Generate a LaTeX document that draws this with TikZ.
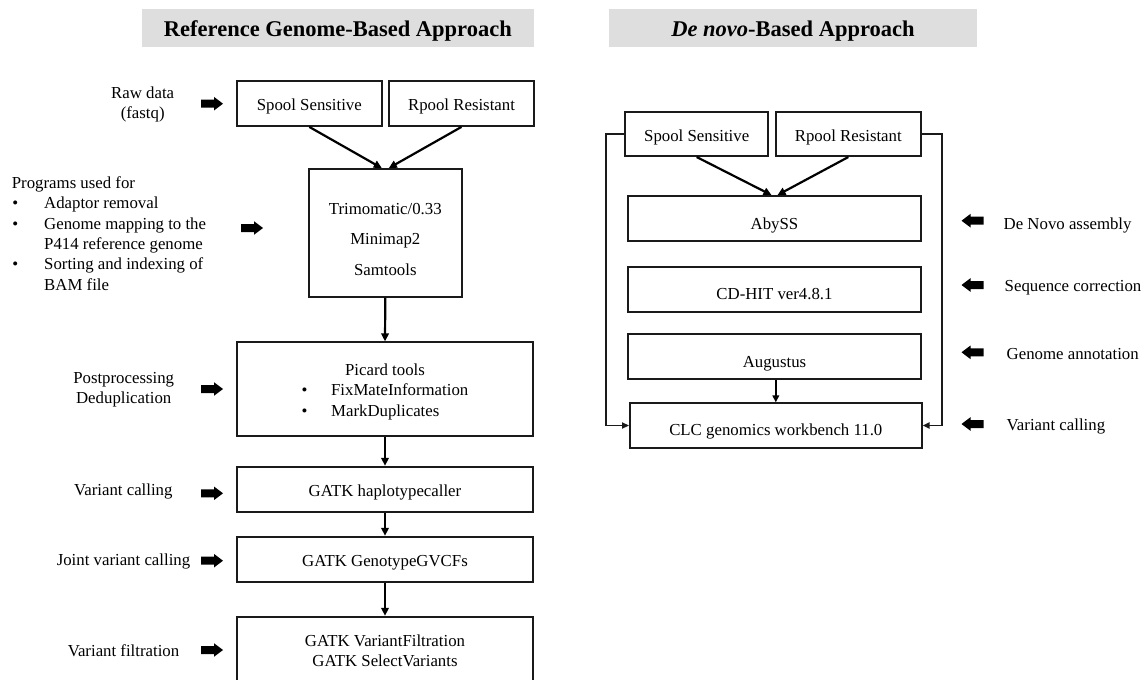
\documentclass[tikz,border=0pt]{standalone}
\usepackage{fontspec}
\setmainfont{Liberation Serif}
\usetikzlibrary{arrows.meta}
\newcommand{\bodyfs}{\fontsize{16.8}{20.6}\selectfont}
\newcommand{\listfs}{\fontsize{16.8}{20.4}\selectfont}
\newcommand{\widefs}{\fontsize{16.8}{30.5}\selectfont}
\newcommand{\titlefs}{\fontsize{22.5}{26}\selectfont\bfseries}
\definecolor{titlegray}{HTML}{DEDEDE}
\definecolor{linegray}{HTML}{1A1A1A}
\begin{document}
\begin{tikzpicture}[x=1pt,y=-1pt,
  box/.style={draw=linegray, line width=1.8pt, inner sep=0pt, align=center, font=\bodyfs},
  lbl/.style={inner sep=0pt, align=center, font=\bodyfs},
  up/.style={text height=#1, text depth=0pt},
  conn/.style={line width=2.2pt, draw=black, -{Triangle[length=8pt,width=7.5pt]}},
  side/.style={line width=1.9pt, draw=linegray, -{Triangle[length=7pt,width=6pt]}},
  titlebox/.style={fill=titlegray, inner sep=0pt, font=\titlefs},
  fatR/.pic={\fill (-11,-4) -- (2,-4) -- (2,-6.8) -- (11,0) -- (2,6.8) -- (2,4) -- (-11,4) -- cycle;},
  fatL/.pic={\fill (11,-4) -- (-2,-4) -- (-2,-6.8) -- (-11,0) -- (-2,6.8) -- (-2,4) -- (11,4) -- cycle;}
]
\useasboundingbox (0,0) rectangle (1144,680);
\clip (0,0) rectangle (1144,680);

% titles
\node[titlebox, minimum width=392.3pt, minimum height=38pt, up=16pt] (tL) at (337.9,28) {Reference Genome-Based Approach};
\node[titlebox, minimum width=367.4pt, minimum height=38pt, up=16pt] (tR) at (793,28) {\textit{De novo}-Based Approach};

% left flow
\node[box, minimum width=144.7pt, minimum height=45pt, up=13pt] (spoolL) at (309.3,103.5) {Spool Sensitive};
\node[box, minimum width=145pt, minimum height=45pt, up=13pt] (rpoolL) at (461.5,103.5) {Rpool Resistant};
\node[box, font=\widefs, minimum width=152.7pt, minimum height=128pt, up=84.6pt] (trim) at (385.3,233) {Trimomatic/0.33\\Minimap2\\Samtools};
\node[box, minimum width=296.6pt, minimum height=93.4pt, up=13.2pt] (picard) at (385,389)
  {Picard tools\\\begin{tabular}[t]{@{}l@{}}\makebox[29.5pt][l]{\textbullet}FixMateInformation\\\makebox[29.5pt][l]{\textbullet}MarkDuplicates\end{tabular}};
\node[box, minimum width=296.6pt, minimum height=45.6pt, up=13.6pt] (haplo) at (385,489.5) {GATK haplotypecaller};
\node[box, minimum width=296.6pt, minimum height=45pt, up=14.2pt] (geno) at (385,559.2) {GATK GenotypeGVCFs};
\node[box, minimum width=296.6pt, minimum height=67.2pt, up=33.2pt] (filt) at (385,650.3) {GATK VariantFiltration\\GATK SelectVariants};

\draw[conn] (spoolL.south) -- ([xshift=-3.5pt]trim.north);
\draw[conn] (rpoolL.south) -- ([xshift=3.5pt]trim.north);
\draw[conn] (trim.south) -- (picard.north);
\draw[conn] (picard.south) -- (haplo.north);
\draw[conn] (haplo.south) -- (geno.north);
\draw[conn] (geno.south) -- (filt.north);

% left labels
\node[lbl, up=32.8pt] (raw) at (142.7,102.5) {Raw data\\(fastq)};
\node[lbl, anchor=west, align=left, font=\listfs, up=114.6pt] (prog) at (11.7,233)
  {Programs used for\\
   \makebox[32.3pt][l]{\hspace*{0.5pt}\textbullet}Adaptor removal\\
   \makebox[32.3pt][l]{\hspace*{0.5pt}\textbullet}Genome mapping to the\\
   \hspace*{32.3pt}P414 reference genome\\
   \makebox[32.3pt][l]{\hspace*{0.5pt}\textbullet}Sorting and indexing of\\
   \hspace*{32.3pt}BAM file};
\node[lbl, up=33.2pt] (post) at (123.7,387) {Postprocessing\\Deduplication};
\node[lbl, up=13.6pt] (vcall) at (123.3,488.5) {Variant calling};
\node[lbl, up=13.2pt] (joint) at (123.5,559) {Joint variant calling};
\node[lbl, up=13.6pt] (vfilt) at (123.5,649.5) {Variant filtration};

\pic at (212,103.7) {fatR};
\pic at (252,228) {fatR};
\pic at (212,389) {fatR};
\pic at (212,493.3) {fatR};
\pic at (212,560.7) {fatR};
\pic at (212,650) {fatR};

% right flow
\node[box, minimum width=143.3pt, minimum height=44.3pt, up=14pt] (spoolR) at (696.7,134) {Spool Sensitive};
\node[box, minimum width=144.7pt, minimum height=44.3pt, up=14pt] (rpoolR) at (848.3,134) {Rpool Resistant};
\node[box, minimum width=292.4pt, minimum height=44.7pt, up=21.4pt] (abyss) at (774.5,218.3) {AbySS};
\node[box, minimum width=292.4pt, minimum height=44.4pt, up=20.2pt] (cdhit) at (774.5,289.5) {CD-HIT ver4.8.1};
\node[box, minimum width=292.4pt, minimum height=45pt, up=21.6pt] (aug) at (774.5,356.5) {Augustus};
\node[box, minimum width=291.7pt, minimum height=44.4pt, up=20.2pt] (clc) at (775.8,425.5) {CLC genomics workbench 11.0};

\draw[conn] (spoolR.south) -- ([xshift=-3pt]abyss.north);
\draw[conn] (rpoolR.south) -- ([xshift=3pt]abyss.north);
\draw[conn, -{Triangle[length=7pt,width=6.5pt]}, line width=2pt] (aug.south -| clc.north) -- (clc.north);
\coordinate (lx) at (605.7,134);
\coordinate (rx) at (941.7,134);
\draw[side] (spoolR.west) -- (lx) |- (clc.west);
\draw[side] (rpoolR.east) -- (rx) |- (clc.east);

% right labels
\pic at (972.5,220.7) {fatL};
\pic at (972.5,285) {fatL};
\pic at (972.5,352.3) {fatL};
\pic at (972.5,424) {fatL};
\node[lbl, anchor=west, up=13pt] (dna) at (1003.5,222.7) {De Novo assembly};
\node[lbl, anchor=west, up=13pt] (seqc) at (1004.5,285) {Sequence correction};
\node[lbl, anchor=west, up=13pt] (gann) at (1006.5,353.3) {Genome annotation};
\node[lbl, anchor=west, up=13pt] (vcr) at (1006.5,424) {Variant calling};
\end{tikzpicture}
\end{document}
